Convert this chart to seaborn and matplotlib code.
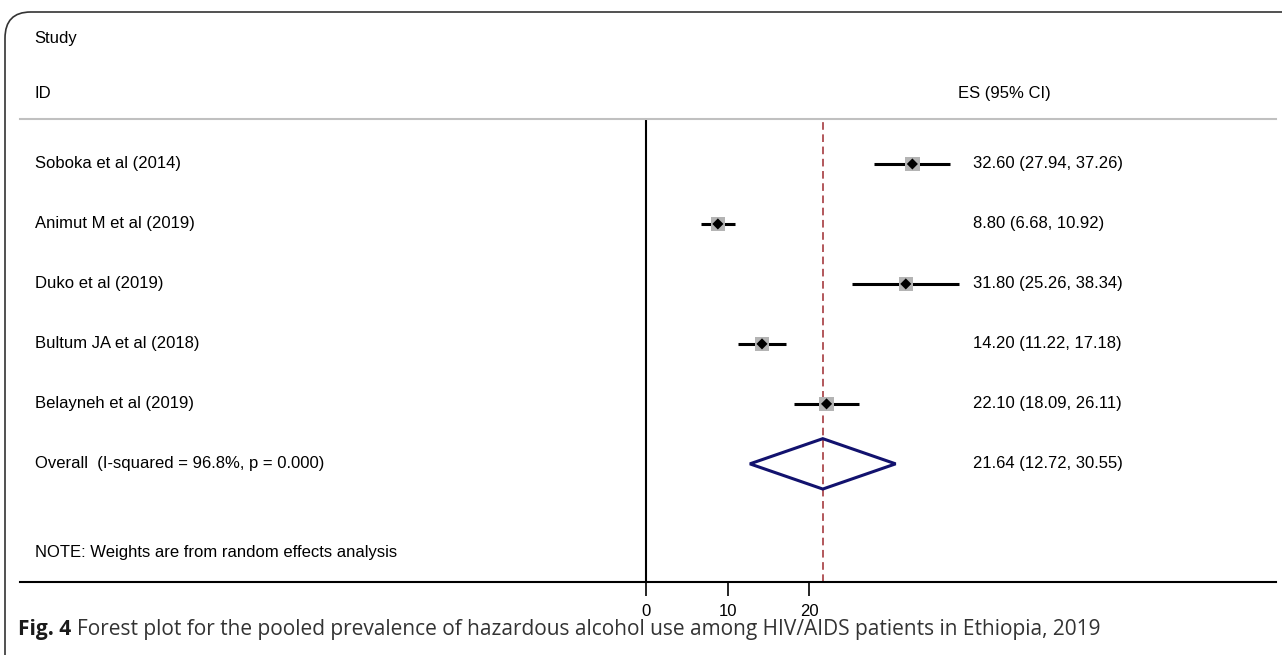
import matplotlib
matplotlib.use("Agg")
import matplotlib.pyplot as plt
import seaborn as sns
import pandas as pd
from matplotlib.patches import FancyBboxPatch, Polygon

studies = ["Soboka et al (2014)", "Animut M et al (2019)", "Duko et al (2019)",
           "Bultum JA et al (2018)", "Belayneh et al (2019)"]
es = [32.60, 8.80, 31.80, 14.20, 22.10]
lo = [27.94, 6.68, 25.26, 11.22, 18.09]
hi = [37.26, 10.92, 38.34, 17.18, 26.11]
pooled_es, pooled_lo, pooled_hi = 21.64, 12.72, 30.55
pooled_label = "Overall  (I-squared = 96.8%, p = 0.000)"
xticks = [0, 10, 20]

df = pd.DataFrame({"study": studies, "es": es, "lo": lo, "hi": hi, "row": range(len(studies))})

sns.set_style("white")
plt.rcParams["font.family"] = ["Liberation Sans", "DejaVu Sans"]
plt.rcParams["text.color"] = "black"
plt.rcParams["xtick.color"] = "black"
plt.rcParams["xtick.labelcolor"] = "black"
FS = 12

fig = plt.figure(figsize=(12.82, 6.55), dpi=100)
ax = fig.add_axes([20 / 1282, 1 - 582 / 655, 1256 / 1282, (582 - 119) / 655])

# confidence intervals and study markers
ax.hlines(df["row"], df["lo"], df["hi"], color="black", lw=2.2, zorder=2)
sns.scatterplot(data=df, x="es", y="row", marker="s", s=110, color="#b4b4b4",
                edgecolor="none", ax=ax, zorder=3)
sns.scatterplot(data=df, x="es", y="row", marker="D", s=32, color="black",
                edgecolor="none", ax=ax, zorder=4)

# pooled diamond
orow = len(studies)
ax.add_patch(Polygon([[pooled_lo, orow], [pooled_es, orow - 0.42], [pooled_hi, orow],
                      [pooled_es, orow + 0.42]], closed=True, fill=False,
                     edgecolor="#12126e", lw=2.2, zorder=4))

ax.axvline(0, color="black", lw=1.5, zorder=1)
ax.axvline(pooled_es, color="#9e2a2f", lw=1.1, ls=(0, (5, 3)), zorder=1)

ax.set_xlim(-76.6, 77.1)
ax.set_ylim(6.97, -0.75)
ax.set_xticks(xticks)
ax.set_xticklabels([str(t) for t in xticks], fontsize=FS)
ax.set_yticks([])
ax.set_xlabel("")
ax.set_ylabel("")
ax.tick_params(axis="x", direction="out", length=10, width=1.2, pad=6, bottom=True, color="black")
for side in ["left", "right"]:
    ax.spines[side].set_visible(False)
ax.spines["bottom"].set_color("black")
ax.spines["bottom"].set_linewidth(1.5)
ax.spines["top"].set_color("#c0c0c0")
ax.spines["top"].set_linewidth(1.5)

xlab, xhead, xes = -74.8, 38.2, 40.06
for i, row in df.iterrows():
    ax.text(xlab, row["row"], row["study"], va="center", ha="left", fontsize=FS)
    ax.text(xes, row["row"], f"{row['es']:.2f} ({row['lo']:.2f}, {row['hi']:.2f})",
            va="center", ha="left", fontsize=FS)
ax.text(xlab, orow, pooled_label, va="center", ha="left", fontsize=FS)
ax.text(xes, orow, f"{pooled_es:.2f} ({pooled_lo:.2f}, {pooled_hi:.2f})",
        va="center", ha="left", fontsize=FS)
ax.text(xlab, 6.47, "NOTE: Weights are from random effects analysis", va="center",
        ha="left", fontsize=FS)
ax.text(xlab, -2.1, "Study", va="center", ha="left", fontsize=FS, clip_on=False)
ax.text(xlab, -1.17, "ID", va="center", ha="left", fontsize=FS, clip_on=False)
ax.text(xhead, -1.17, "ES (95% CI)", va="center", ha="left", fontsize=FS, clip_on=False)

# frame around the figure
fig.patches.append(FancyBboxPatch((5 / 1282, -0.1), 1.2, 1.1 - 12 / 655,
                                  boxstyle="round,pad=0,rounding_size=0.02",
                                  transform=fig.transFigure, fill=False,
                                  edgecolor="#333333", lw=1.2, mutation_aspect=2.0))

fig.text(18 / 1282, 1 - 629 / 655, "Fig. 4", fontsize=15, fontweight="bold",
         family=["Open Sans", "DejaVu Sans"], va="center", ha="left", color="#1a1a1a")
fig.text(77 / 1282, 1 - 629 / 655,
         "Forest plot for the pooled prevalence of hazardous alcohol use among HIV/AIDS patients in Ethiopia, 2019",
         fontsize=15, family=["Open Sans", "DejaVu Sans"], va="center", ha="left", color="#333333")

fig.savefig("out.png", dpi=100)
